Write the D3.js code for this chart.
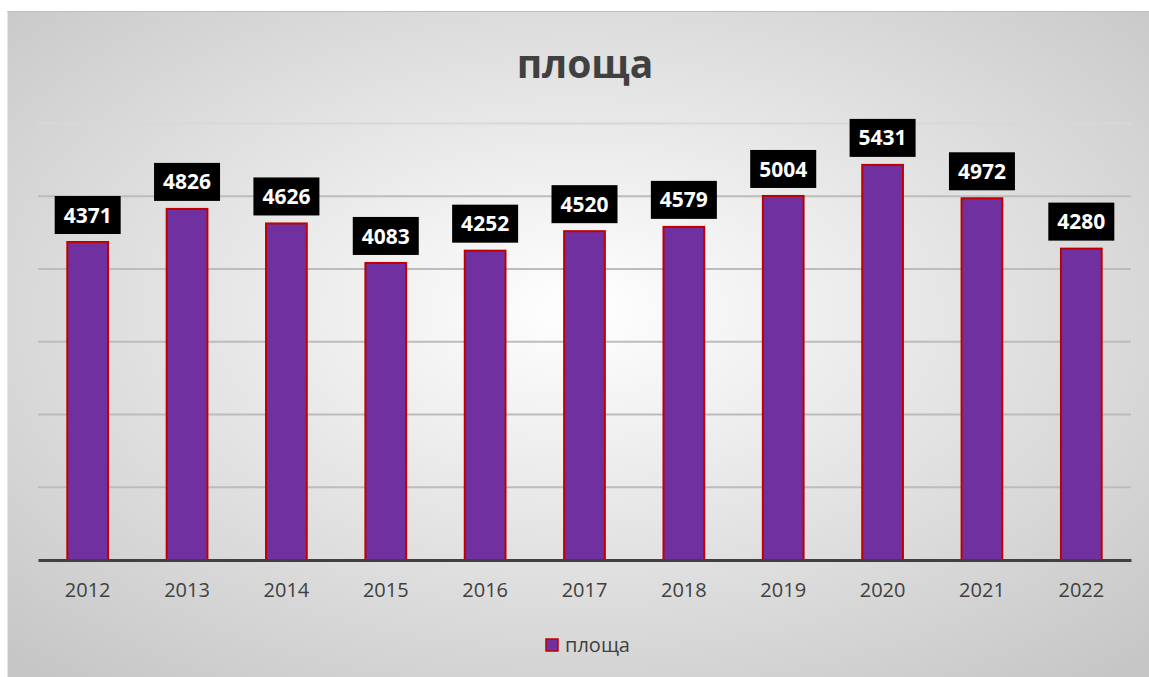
<!DOCTYPE html>
<html><head><meta charset="utf-8">
<script src="https://cdn.jsdelivr.net/npm/d3@7"></script>
<style>body{margin:0;background:#fff;}svg{display:block;}</style>
</head><body>
<svg id="chart" width="1149" height="677"></svg>
<script>
const years = ["2012","2013","2014","2015","2016","2017","2018","2019","2020","2021","2022"];
const values = [4371,4826,4626,4083,4252,4520,4579,5004,5431,4972,4280];
const yTicks = [0,1000,2000,3000,4000,5000,6000];
const title = "площа";
const seriesName = "площа";

const svg = d3.select("#chart");
const W = 1149, H = 677;
const defs = svg.append("defs");
const grad = defs.append("radialGradient").attr("id","bg")
  .attr("cx","50%").attr("cy","45%").attr("r","72%");
grad.append("stop").attr("offset","0%").attr("stop-color","#ffffff");
grad.append("stop").attr("offset","100%").attr("stop-color","#c6c6c6");

svg.append("rect").attr("x",7).attr("y",11).attr("width",W-7).attr("height",H-11)
  .attr("fill","url(#bg)");
svg.append("line").attr("x1",7.5).attr("x2",7.5).attr("y1",11).attr("y2",H)
  .attr("stroke","#e6e6e6").attr("stroke-width",1);
svg.append("line").attr("x1",7).attr("x2",W).attr("y1",11.5).attr("y2",11.5)
  .attr("stroke","#bdbdbd").attr("stroke-width",1);

const x = d3.scaleBand().domain(years).range([38,1131]).paddingInner(0.59).paddingOuter(0.295);
const y = d3.scaleLinear().domain([0,6000]).range([560,123.5]);

// gridlines
svg.append("g").selectAll("line").data(yTicks.filter(d=>d>0)).join("line")
  .attr("x1",38).attr("x2",1131)
  .attr("y1",d=>y(d)).attr("y2",d=>y(d))
  .attr("stroke",(d)=> d===6000 ? "#d8d8d8" : "#bcbcbc").attr("stroke-width",2);

// bars
svg.append("g").selectAll("rect").data(values).join("rect")
  .attr("x",(d,i)=>x(years[i]))
  .attr("y",d=>y(d))
  .attr("width",x.bandwidth())
  .attr("height",d=>y(0)-y(d))
  .attr("fill","#7030a0").attr("stroke","#c00000").attr("stroke-width",2);

// baseline axis
const xAxis = d3.axisBottom(x).tickSize(0).tickPadding(23);
const gx = svg.append("g").attr("transform",`translate(0,${y(0)})`).call(xAxis);
gx.select(".domain").attr("stroke","#404040").attr("stroke-width",3);
gx.selectAll("text").attr("font-family","'Open Sans', sans-serif").attr("font-size",20)
  .attr("fill","#404040");

// data labels
const lg = svg.append("g").selectAll("g").data(values).join("g")
  .attr("transform",(d,i)=>`translate(${x(years[i])+x.bandwidth()/2},${y(d)-27})`);
lg.append("rect").attr("x",-33).attr("y",-19).attr("width",66).attr("height",38).attr("fill","#000");
lg.append("text").text(d=>d).attr("text-anchor","middle").attr("dy","0.36em")
  .attr("font-family","'Open Sans', sans-serif").attr("font-weight","bold").attr("font-size",21)
  .attr("fill","#fff");

// title
svg.append("text").attr("x",585).attr("y",78).attr("text-anchor","middle")
  .attr("font-family","'Open Sans', sans-serif").attr("font-weight","bold").attr("font-size",39)
  .attr("fill","#404040").text(title);

// legend
const leg = svg.append("g").attr("transform","translate(546,639)");
leg.append("rect").attr("x",0).attr("y",0).attr("width",12).attr("height",12)
  .attr("fill","#7030a0").attr("stroke","#c00000").attr("stroke-width",1.5);
leg.append("text").attr("x",19).attr("y",6).attr("dy","0.35em")
  .attr("font-family","'Open Sans', sans-serif").attr("font-size",20).attr("fill","#404040").text(seriesName);
</script>
</body></html>
